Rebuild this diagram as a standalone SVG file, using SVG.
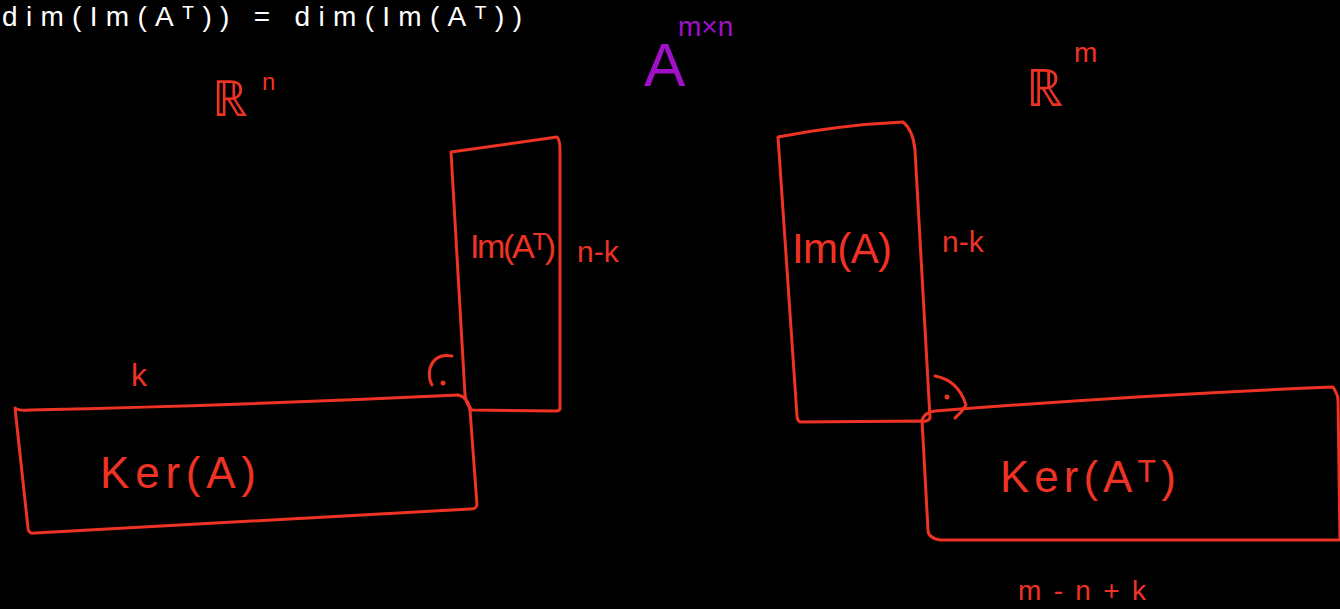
<svg xmlns="http://www.w3.org/2000/svg" width="1340" height="609" viewBox="0 0 1340 609">
<style>
.bg{fill:#000}
.box{fill:none;stroke:#ee3324;stroke-width:3;stroke-linejoin:round;stroke-linecap:round}
.r{fill:#ee3324;font-family:"Liberation Sans",sans-serif}
.p{fill:#a010c8;font-family:"Liberation Sans",sans-serif}
.w{fill:#fff;font-family:"Liberation Sans",sans-serif}
</style>
<rect class="bg" x="0" y="0" width="1340" height="609"/>
<text class="w" x="2" y="26" font-size="28" textLength="520">dim(Im(Aᵀ)) = dim(Im(Aᵀ))</text>
<g id="title">
<text class="p" x="644" y="86" font-size="62">A</text>
<text class="p" x="678" y="36" font-size="28">m×n</text>
</g>
<g id="Rn">
<text class="r" x="212" y="116" font-size="50">ℝ</text>
<text class="r" x="262" y="90" font-size="24">n</text>
</g>
<g id="Rm">
<text class="r" x="1026" y="106" font-size="52">ℝ</text>
<text class="r" x="1074" y="62" font-size="28">m</text>
</g>
<g id="imAT">
<path class="box" d="M451,152 L557,137 Q560,140 560,150 L560,408 Q560,411 556,411 L472,410 Q466,404 465,395 L451,152 Z"/>
<text class="r" x="470" y="258" font-size="34" textLength="86">Im(Aᵀ)</text>
<text class="r" x="577" y="262" font-size="30">n-k</text>
</g>
<g id="kerA">
<path class="box" d="M15,408 Q18,411 30,410 Q250,405 458,395 Q468,397 470,410 L477,505 Q476,509 470,509 L35,533 Q28,534 28,528 L15,408 Z"/>
<text class="r" x="100" y="488" font-size="44" textLength="156">Ker(A)</text>
<text class="r" x="131" y="386" font-size="32">k</text>
<path class="box" d="M452,356 Q435,353 430,368 Q428,378 432,385"/>
<circle cx="443" cy="383" r="2.5" fill="#ee3324"/>
</g>
<g id="imA">
<path class="box" d="M778,137 Q840,125 903,122 Q913,130 915,150 L930,418 Q928,422 922,421 L800,422 Q797,420 797,416 L778,137 Z"/>
<text class="r" x="792" y="263" font-size="42" textLength="100">Im(A)</text>
<text class="r" x="942" y="252" font-size="30">n-k</text>
</g>
<g id="kerAT">
<path class="box" d="M922,420 Q925,412 935,411 Q1140,395 1333,387 Q1338,395 1338,400 L1340,540 L940,540 Q928,538 928,530 L922,420"/>
<text class="r" x="1000" y="492" font-size="44" textLength="176">Ker(Aᵀ)</text>
<text class="r" x="1018" y="600" font-size="28" textLength="128">m-n+k</text>
<path class="box" d="M935,376 Q958,380 966,405 Q962,412 955,418"/>
<circle cx="947" cy="397" r="2.5" fill="#ee3324"/>
</g>
</svg>
